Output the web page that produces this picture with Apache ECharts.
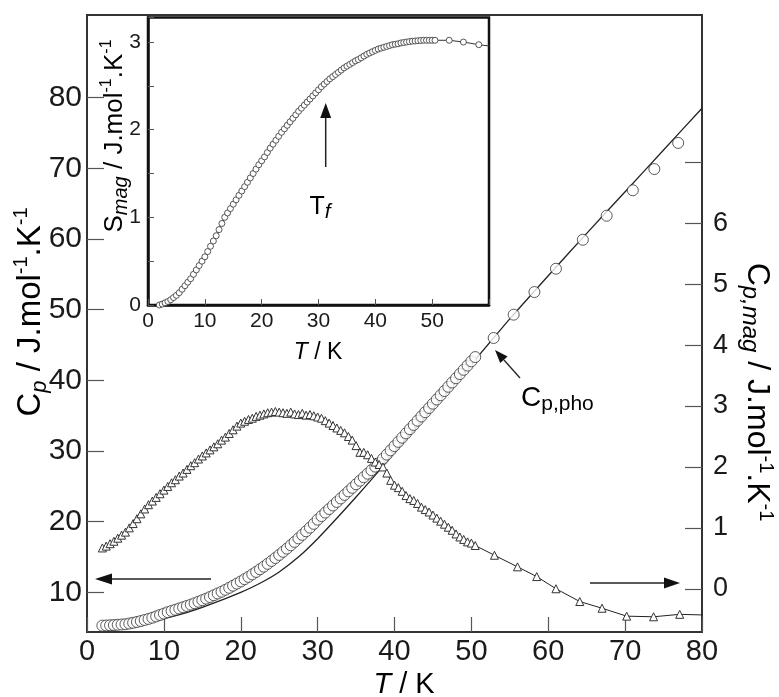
<!DOCTYPE html>
<html>
<head>
<meta charset="utf-8">
<script src="https://cdn.jsdelivr.net/npm/echarts@6/dist/echarts.min.js"></script>
<style>html,body{margin:0;padding:0;background:#fff}#c{width:779px;height:697px}</style>
</head>
<body>
<div id="c"></div>
<script>
// ---- data ----
const tDense = [2,2.5,3,3.5,4,4.5,5,5.5,6,6.5,7,7.5,8,8.5,9,9.5,10,10.5,11,11.5,12,12.5,13,13.5,14,14.5,15,15.5,16,16.5,17,17.5,18,18.5,19,19.5,20,20.5,21,21.5,22,22.5,23,23.5,24,24.5,25,25.5,26,26.5,27,27.5,28,28.5,29,29.5,30,30.5,31,31.5,32,32.5,33,33.5,34,34.5,35,35.5,36,36.5,37,37.5,38,38.5,39,39.5,40,40.5,41,41.5,42,42.5,43,43.5,44,44.5,45,45.5,46,46.5,47,47.5,48,48.5,49,49.5,50,50.5];
// total Cp (left axis), open circles
const cpDense = [5.3,5.32,5.35,5.38,5.42,5.46,5.5,5.6,5.7,5.82,5.95,6.1,6.25,6.42,6.6,6.8,7.0,7.2,7.38,7.55,7.72,7.9,8.08,8.27,8.47,8.68,8.9,9.12,9.35,9.6,9.85,10.1,10.37,10.65,10.95,11.25,11.55,11.87,12.2,12.55,12.9,13.27,13.65,14.05,14.45,14.87,15.3,15.75,16.2,16.67,17.15,17.65,18.15,18.65,19.17,19.7,20.3,20.8,21.3,21.8,22.3,22.8,23.3,23.8,24.3,24.8,25.3,25.8,26.3,26.8,27.3,27.8,28.3,28.9,29.5,30.1,30.7,31.3,31.9,32.5,33.1,33.7,34.3,34.9,35.5,36.1,36.7,37.3,37.9,38.5,39.1,39.7,40.3,40.9,41.5,42.1,42.7,43.3];
const tCpSparse = [52.9,55.5,58.2,61.0,64.5,67.6,71.0,73.8,76.9];
const cpSparse = [46.0,49.3,52.5,55.8,59.9,63.3,66.9,69.9,73.6];
// phonon contribution Cp,pho (left axis), solid line
const tPho = [2,5,7.5,10,12.5,15,17.5,20,22.5,25,27.5,30,32.5,35,37.5,40,42.5,45,47.5,50,52.5,55,60,65,70,75,80];
const cpPho = [5.2,5.4,5.8,6.3,7.0,7.9,8.9,10.0,11.3,12.9,15.0,17.6,20.5,23.5,26.6,29.8,32.9,36.0,39.1,42.3,45.5,48.7,54.8,60.8,66.7,72.6,78.5];
// magnetic Cp,mag (right axis), open triangles
const cmagDense = [0.67,0.7,0.74,0.78,0.83,0.88,0.93,1.0,1.07,1.15,1.23,1.31,1.38,1.44,1.5,1.56,1.62,1.68,1.74,1.79,1.85,1.9,1.96,2.02,2.07,2.13,2.18,2.23,2.28,2.33,2.38,2.44,2.49,2.55,2.61,2.67,2.72,2.75,2.78,2.8,2.83,2.85,2.87,2.89,2.9,2.91,2.9,2.89,2.88,2.9,2.87,2.86,2.88,2.85,2.86,2.84,2.82,2.8,2.76,2.72,2.68,2.64,2.6,2.56,2.5,2.44,2.35,2.24,2.24,2.2,2.14,2.08,2.04,2.0,1.9,1.78,1.7,1.66,1.6,1.53,1.48,1.45,1.4,1.34,1.3,1.26,1.21,1.16,1.11,1.06,1.01,0.96,0.9,0.85,0.81,0.77,0.75,0.71];
const tMagSparse = [53.0,56.0,58.5,61.0,64.1,67.0,70.2,73.7,77.1];
const cmagSparse = [0.55,0.36,0.2,0.0,-0.21,-0.32,-0.45,-0.46,-0.42];
const tMagEnd = 80;
const cmagEnd = -0.43;
// magnetic entropy (inset)
const sDense = [0.0,0.01,0.025,0.04,0.06,0.085,0.11,0.14,0.18,0.22,0.26,0.3,0.35,0.4,0.45,0.5,0.55,0.61,0.67,0.73,0.79,0.86,0.93,1.0,1.05,1.1,1.15,1.2,1.25,1.3,1.35,1.4,1.45,1.5,1.55,1.6,1.645,1.69,1.74,1.79,1.835,1.88,1.925,1.97,2.01,2.05,2.09,2.13,2.17,2.21,2.245,2.28,2.315,2.35,2.385,2.42,2.455,2.49,2.52,2.55,2.58,2.605,2.63,2.655,2.68,2.705,2.725,2.745,2.765,2.785,2.8,2.82,2.84,2.86,2.875,2.89,2.905,2.92,2.93,2.94,2.95,2.96,2.97,2.975,2.98,2.99,2.995,3.0,3.005,3.01,3.012,3.015,3.018,3.02,3.02,3.02,3.02,3.02];
const tSSparse = [53.0,55.5,58.2];
const sSparse = [3.02,3.0,2.97];
const tSEnd = 60;
const sEnd = 2.955;
// tick labels
const xTicks = [0,10,20,30,40,50,60,70,80];
const leftTickLabels = [10,20,30,40,50,60,70,80];
const rightTickLabels = [0,1,2,3,4,5,6];
const rightTickMarks = [0,1,2,3,4,5,6,7];
const insetXLabels = [0,10,20,30,40,50];
const insetYLabels = [0,1,2,3];

// ---- chart ----
const FF = "'Liberation Sans', Arial, Helvetica, sans-serif";
const INK = '#1a1a1a';
const chart = echarts.init(document.getElementById('c'), null, {renderer: 'canvas'});

const zip = (a, b) => a.map((v, i) => [v, b[i]]);
const cpData = zip(tDense, cpDense).concat(zip(tCpSparse, cpSparse));
const phoData = zip(tPho, cpPho);
const magData = zip(tDense, cmagDense).concat(zip(tMagSparse, cmagSparse))
  .concat([{value: [tMagEnd, cmagEnd], symbol: 'none'}]);
const sData = zip(tDense, sDense).concat(zip(tSSparse, sSparse))
  .concat([{value: [tSEnd, sEnd], symbol: 'none'}]);

function rich(big, small, sup, subDrop) {
  const d = subDrop == null ? 6 : subDrop;
  return {
    n: {fontSize: big, fontFamily: FF, color: INK, lineHeight: big + 6},
    ni: {fontSize: big, fontFamily: FF, color: INK, fontStyle: 'italic', lineHeight: big + 6},
    sub: {fontSize: small, fontFamily: FF, color: INK, fontStyle: 'italic', verticalAlign: 'bottom', lineHeight: d},
    subn: {fontSize: small, fontFamily: FF, color: INK, verticalAlign: 'bottom', lineHeight: d},
    sup: {fontSize: sup, fontFamily: FF, color: INK, verticalAlign: 'top', lineHeight: sup}
  };
}

const option = {
  backgroundColor: '#fff',
  animation: false,
  grid: [
    {left: 87, right: 77, top: 15, bottom: 65, show: true, borderColor: '#333', borderWidth: 2, backgroundColor: 'transparent'},
    {left: 148, top: 17.5, width: 341, height: 287.5, show: true, borderColor: '#111', borderWidth: 2.5, backgroundColor: '#fff', z: 10}
  ],
  xAxis: [
    {gridIndex: 0, type: 'value', min: 0, max: 80, interval: 10,
     axisLine: {onZero: false, lineStyle: {color: '#333', width: 2}},
     axisTick: {inside: true, length: 15, lineStyle: {color: '#555', width: 1.2}},
     axisLabel: {fontSize: 29, color: INK, fontFamily: FF, margin: 5, customValues: xTicks},
     splitLine: {show: false}},
    {gridIndex: 1, type: 'value', min: 0, max: 60, interval: 10, z: 11,
     axisLine: {onZero: false, lineStyle: {color: '#111', width: 2.5}},
     axisTick: {inside: true, length: 6, lineStyle: {color: '#555'}},
     axisLabel: {fontSize: 21, color: INK, fontFamily: FF, margin: 6,
       formatter: v => insetXLabels.indexOf(v) >= 0 ? String(v) : ''},
     splitLine: {show: false}}
  ],
  yAxis: [
    {gridIndex: 0, type: 'value', position: 'left', min: 4.4, max: 91.7, splitNumber: 9,
     axisLine: {onZero: false, lineStyle: {color: '#333', width: 2}},
     axisTick: {inside: true, length: 17, customValues: leftTickLabels, lineStyle: {color: '#555', width: 1.2}},
     axisLabel: {fontSize: 30, color: INK, fontFamily: FF, margin: 5, customValues: leftTickLabels,
       formatter: v => leftTickLabels.indexOf(v) >= 0 ? String(v) : ''},
     splitLine: {show: false}},
    {gridIndex: 0, type: 'value', position: 'right', min: -0.71, max: 9.42, splitNumber: 10,
     axisLine: {onZero: false, lineStyle: {color: '#333', width: 2}},
     axisTick: {inside: true, length: 17, customValues: rightTickMarks, lineStyle: {color: '#555', width: 1.2}},
     axisLabel: {fontSize: 27, color: INK, fontFamily: FF, margin: 11, customValues: rightTickLabels,
       formatter: v => rightTickLabels.indexOf(v) >= 0 ? String(v) : ''},
     splitLine: {show: false}},
    {gridIndex: 1, type: 'value', min: 0, max: 3.28, interval: 0.5, z: 11,
     axisLine: {onZero: false, lineStyle: {color: '#111', width: 2.5}},
     axisTick: {inside: true, length: 6, lineStyle: {color: '#555'}},
     axisLabel: {fontSize: 21, color: INK, fontFamily: FF, margin: 7,
       formatter: v => insetYLabels.indexOf(v) >= 0 ? String(v) : ''},
     splitLine: {show: false}}
  ],
  series: [
    {type: 'line', name: 'Cp,pho', xAxisIndex: 0, yAxisIndex: 0, data: phoData, smooth: 0.3,
     showSymbol: false, lineStyle: {color: '#222', width: 1.3}, z: 2},
    {type: 'scatter', name: 'Cp', xAxisIndex: 0, yAxisIndex: 0, data: cpData,
     symbol: 'circle', symbolSize: 11,
     itemStyle: {color: '#fff', borderColor: '#333', borderWidth: 1}, z: 3},
    {type: 'line', name: 'Cp,mag', xAxisIndex: 0, yAxisIndex: 1, data: magData,
     symbol: 'triangle', symbolSize: 8, showAllSymbol: true,
     lineStyle: {color: '#222', width: 1},
     itemStyle: {color: '#fff', borderColor: '#333', borderWidth: 1}, z: 4},
    {type: 'line', name: 'Smag', xAxisIndex: 1, yAxisIndex: 2, data: sData,
     symbol: 'circle', symbolSize: 6, showAllSymbol: true,
     lineStyle: {color: '#333', width: 1},
     itemStyle: {color: '#fff', borderColor: '#444', borderWidth: 0.9}, z: 12}
  ],
  graphic: [
    // axis titles
    {type: 'text', x: 31, y: 312, rotation: Math.PI / 2, z: 20,
     style: {text: '{n|C}{sub|p}{n| / J.mol}{sup|-1}{n|.K}{sup|-1}', rich: rich(33, 22, 20, 10), align: 'center', verticalAlign: 'middle'}},
    {type: 'text', x: 757, y: 392, rotation: -Math.PI / 2, z: 20,
     style: {text: '{n|C}{sub|p,mag}{n| / J.mol}{sup|-1}{n|.K}{sup|-1}', rich: rich(32, 24, 20), align: 'center', verticalAlign: 'middle'}},
    {type: 'text', x: 404, y: 685, z: 20,
     style: {text: '{ni|T}{n| / K}', rich: rich(29, 18, 16), align: 'center', verticalAlign: 'middle'}},
    {type: 'text', x: 115, y: 136, rotation: Math.PI / 2, z: 20,
     style: {text: '{n|S}{sub|mag}{n| / J.mol}{sup|-1}{n|.K}{sup|-1}', rich: rich(26, 20, 16), align: 'center', verticalAlign: 'middle'}},
    {type: 'text', x: 318, y: 353, z: 20,
     style: {text: '{ni|T}{n| / K}', rich: rich(23, 16, 14), align: 'center', verticalAlign: 'middle'}},
    // annotations
    {type: 'text', x: 320, y: 207, z: 20,
     style: {text: '{n|T}{sub|f}', rich: rich(25, 21, 14), align: 'center', verticalAlign: 'middle'}},
    {type: 'line', z: 20, shape: {x1: 325.7, y1: 167, x2: 325.7, y2: 116}, style: {stroke: '#222', lineWidth: 1.5}},
    {type: 'polygon', z: 20, shape: {points: [[325.7, 103], [320.2, 118], [331.2, 118]]}, style: {fill: '#111'}},
    {type: 'text', x: 521, y: 398, z: 20,
     style: {text: '{n|C}{subn|p,pho}', rich: rich(28, 21, 14), align: 'left', verticalAlign: 'middle'}},
    {type: 'line', z: 20, shape: {x1: 520, y1: 378, x2: 504, y2: 360}, style: {stroke: '#222', lineWidth: 1.3}},
    {type: 'polygon', z: 20, shape: {points: [[495, 350], [507.6, 356.4], [500.2, 363]]}, style: {fill: '#111'}},
    {type: 'line', z: 20, shape: {x1: 110, y1: 579, x2: 211, y2: 579}, style: {stroke: '#222', lineWidth: 1.5}},
    {type: 'polygon', z: 20, shape: {points: [[95, 579], [112, 573.5], [112, 584.5]]}, style: {fill: '#111'}},
    {type: 'line', z: 20, shape: {x1: 590, y1: 583, x2: 666, y2: 583}, style: {stroke: '#222', lineWidth: 1.5}},
    {type: 'polygon', z: 20, shape: {points: [[680, 583], [664, 577.5], [664, 588.5]]}, style: {fill: '#111'}}
  ]
};
chart.setOption(option);
</script>
</body>
</html>
